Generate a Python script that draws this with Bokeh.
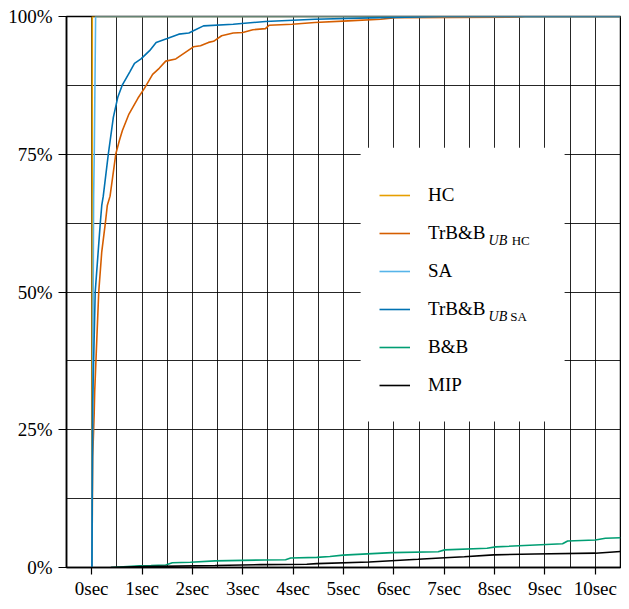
from bokeh.plotting import figure
from bokeh.models import (Range1d, FixedTicker, Legend, LegendItem, BoxAnnotation, Label)
from bokeh.embed import file_html
from bokeh.resources import INLINE

# ---------------- data ----------------
hc_t = [0.0, 0.005, 0.01, 0.012, 10.5]
hc_p = [0.0, 0.0, 50.0, 100.0, 100.0]

trbb_hc_t = [0.0, 0.005, 0.02, 0.05, 0.06, 0.14, 0.2, 0.27, 0.31, 0.365, 0.48, 0.55, 0.61, 0.74,
             0.92, 1.05, 1.21, 1.34, 1.47, 1.67, 1.86, 2.02, 2.16, 2.32, 2.42, 2.58, 2.81,
             3.0, 3.2, 3.45, 3.52, 3.98, 4.43, 5.09, 5.74, 6.03, 8.5, 8.6, 10.5]
trbb_hc_p = [0.0, 0.0, 20.0, 28.0, 32.0, 50.0, 57.3, 62.4, 65.7, 67.4, 75.1, 77.5, 79.3, 82.3,
             85.2, 87.0, 89.5, 90.6, 91.9, 92.3, 93.5, 94.5, 94.7, 95.3, 95.5, 96.5, 97.0,
             97.1, 97.6, 97.8, 98.4, 98.6, 98.9, 99.2, 99.5, 99.8, 99.9, 100.0, 100.0]

sa_t = [0.0, 0.005, 0.02, 0.039, 0.053, 0.078, 10.5]
sa_p = [0.0, 0.0, 33.0, 67.4, 76.3, 100.0, 100.0]

trbb_sa_t = [0.0, 0.005, 0.02, 0.07, 0.17, 0.2, 0.23, 0.33, 0.43, 0.52, 0.61, 0.76, 0.85, 0.98,
             1.15, 1.28, 1.5, 1.73, 1.93, 2.02, 2.22, 2.81, 3.45, 4.43, 5.74, 6.95, 10.5]
trbb_sa_p = [0.0, 0.0, 30.0, 50.0, 62.4, 65.7, 67.4, 75.0, 81.7, 85.4, 87.6, 90.0, 91.5, 92.3,
             93.8, 95.3, 96.0, 96.8, 97.0, 97.4, 98.3, 98.6, 99.1, 99.5, 99.8, 100.0, 100.0]

bb_t = [0.385, 0.95, 1.18, 1.47, 1.6, 1.96, 2.45, 3.43, 3.85, 3.95, 4.47, 4.73, 4.99, 5.96,
        6.88, 7.01, 7.85, 8.02, 9.35, 9.45, 10.0, 10.2, 10.5]
bb_p = [0.0, 0.3, 0.36, 0.45, 0.85, 0.95, 1.2, 1.37, 1.42, 1.73, 1.84, 2.0, 2.25, 2.7,
        2.85, 3.2, 3.5, 3.74, 4.3, 4.8, 5.0, 5.3, 5.4]

mip_t = [0.38, 1.0, 2.45, 3.36, 4.27, 4.47, 5.51, 6.48, 7.01, 7.4, 7.98, 8.8, 10.0, 10.5]
mip_p = [0.0, 0.15, 0.36, 0.53, 0.6, 0.7, 1.0, 1.5, 1.78, 1.96, 2.3, 2.44, 2.6, 2.9]

x_ticks = [0, 1, 2, 3, 4, 5, 6, 7, 8, 9, 10]
x_tick_labels = ["0sec", "1sec", "2sec", "3sec", "4sec", "5sec", "6sec", "7sec", "8sec", "9sec", "10sec"]
y_ticks = [0, 25, 50, 75, 100]
y_tick_labels = ["0%", "25%", "50%", "75%", "100%"]
x_grid = [i * 0.5 for i in range(0, 22)]
y_grid = [i * 12.5 for i in range(0, 9)]

series_names = ["HC", "TrB&B", "SA", "TrB&B", "B&B", "MIP"]
colors = ["#E69F00", "#D55E00", "#56B4E9", "#0072B2", "#009E73", "#000000"]

FONT = "Liberation Serif"

p = figure(width=621, height=601, output_backend="svg", toolbar_location=None,
           x_range=Range1d(-0.5, 10.5), y_range=Range1d(0, 100),
           min_border_left=66, min_border_top=16, min_border_right=1, min_border_bottom=20)
p.background_fill_color = "white"
p.border_fill_color = "white"
p.outline_line_color = "black"
p.outline_line_width = 1.5

# axes
p.xaxis.ticker = FixedTicker(ticks=x_ticks)
p.xaxis.major_label_overrides = {t: l for t, l in zip(x_ticks, x_tick_labels)}
p.yaxis.ticker = FixedTicker(ticks=y_ticks)
p.yaxis.major_label_overrides = {t: l for t, l in zip(y_ticks, y_tick_labels)}
for ax in (p.xaxis, p.yaxis):
    ax.axis_line_color = "black"
    ax.axis_line_width = 1.5
    ax.major_tick_line_color = "black"
    ax.major_tick_line_width = 1.2
    ax.major_tick_in = 0
    ax.minor_tick_line_color = None
    ax.major_label_text_font = FONT
    ax.major_label_text_font_size = "19px"
    ax.major_label_text_color = "black"
p.xaxis.major_tick_out = 7
p.xaxis.major_label_standoff = 3
p.yaxis.major_tick_out = 8
p.yaxis.major_label_standoff = 6

# grid
p.xgrid.ticker = FixedTicker(ticks=x_grid)
p.ygrid.ticker = FixedTicker(ticks=y_grid)
for g in (p.xgrid, p.ygrid):
    g.grid_line_color = "black"
    g.grid_line_alpha = 0.85
    g.grid_line_width = 1

# curves
xs = [hc_t, trbb_hc_t, sa_t, trbb_sa_t, bb_t, mip_t]
ys = [hc_p, trbb_hc_p, sa_p, trbb_sa_p, bb_p, mip_p]
renderers = []
for x, y, c in zip(xs, ys, colors):
    r = p.line(x, y, line_color=c, line_width=1.6)
    renderers.append(r)

# legend background box (covers grid)
box = BoxAnnotation(left=5.34, right=9.39, top=76.2, bottom=26.5,
                    fill_color="white", fill_alpha=1.0, line_color=None)
p.add_layout(box)

legend = Legend(items=[LegendItem(label=n, renderers=[r]) for n, r in zip(series_names, renderers)],
                location=(313, 170), padding=0, margin=0, spacing=14,
                glyph_width=31, glyph_height=24, label_height=24, label_standoff=18,
                label_width=117,
                border_line_color=None, background_fill_alpha=0.0,
                label_text_font=FONT, label_text_font_size="19px", label_text_color="black")
p.add_layout(legend, "center")

# subscripts for TrB&B labels
sub_specs = [("HC", 8.34, 59.4), ("SA", 8.31, 45.6)]
for txt, xs_, yb in sub_specs:
    p.add_layout(Label(x=7.88, y=yb, text="UB", text_font=FONT, text_font_style="italic",
                       text_font_size="14px", text_baseline="middle", text_color="black"))
    p.add_layout(Label(x=xs_, y=yb, text=txt, text_font=FONT,
                       text_font_size="13px", text_baseline="middle", text_color="black"))

open("out.html", "w").write(file_html(p, INLINE))
